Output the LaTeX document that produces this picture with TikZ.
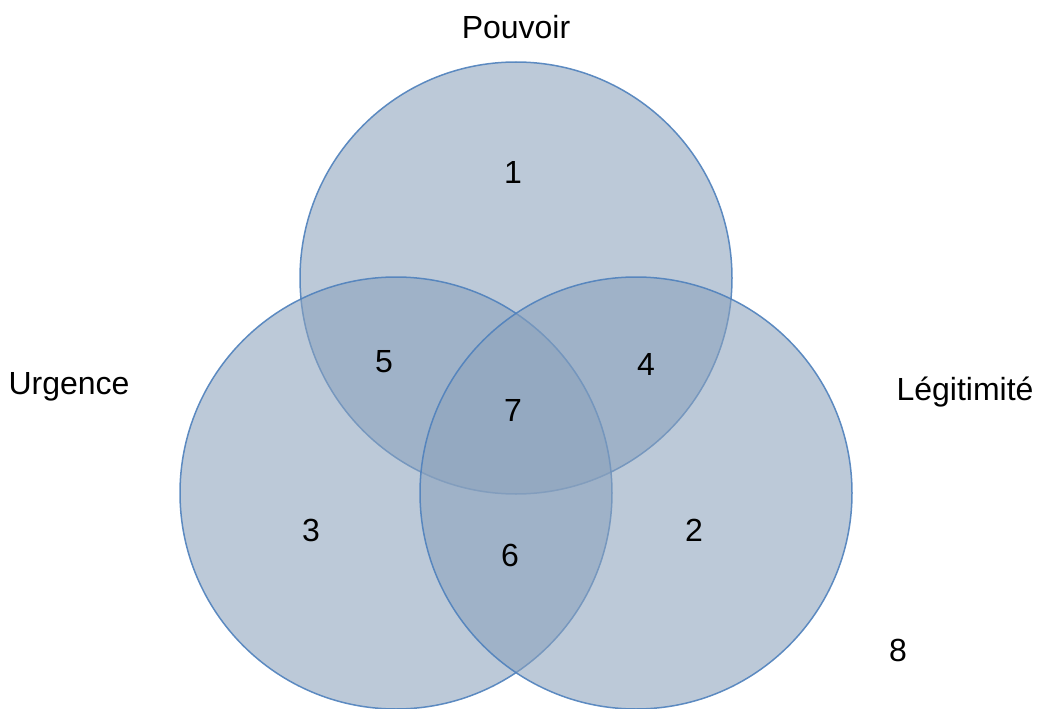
\documentclass[tikz,border=0pt]{standalone}
\usepackage{fontspec}
\setmainfont{Liberation Sans}
\definecolor{vfill}{RGB}{139,162,188}
\definecolor{vline}{RGB}{79,129,189}
\tikzset{
  setcircle/.style={circle, minimum size=432pt, inner sep=0pt, fill=vfill, fill opacity=0.58, draw=vline, line width=1.5pt, draw opacity=0.9},
  lbl/.style={font=\fontsize{32}{36}\selectfont, text=black, inner sep=0pt}
}
\begin{document}
\begin{tikzpicture}[x=1pt,y=-1pt]
\useasboundingbox (0,0) rectangle (1037,709);
\begin{scope}
\clip (0,0) rectangle (1037,709);
\node[setcircle] (P) at (516,278) {};
\node[setcircle] (U) at (396,493) {};
\node[setcircle] (L) at (636,493) {};
\end{scope}
\node[lbl] (tP) at (516,27) {Pouvoir};
\node[lbl] (tU) at (69,387) {Urgence};
\node[lbl] (tL) at (965,392) {Légitimité};
\node[lbl] (n1) at (513,172) {1};
\node[lbl] (n2) at (694,530) {2};
\node[lbl] (n3) at (311,530) {3};
\node[lbl] (n4) at (646,364) {4};
\node[lbl] (n5) at (384,362) {5};
\node[lbl] (n6) at (510,555) {6};
\node[lbl] (n7) at (513,410) {7};
\node[lbl] (n8) at (898,650) {8};
\end{tikzpicture}
\end{document}
